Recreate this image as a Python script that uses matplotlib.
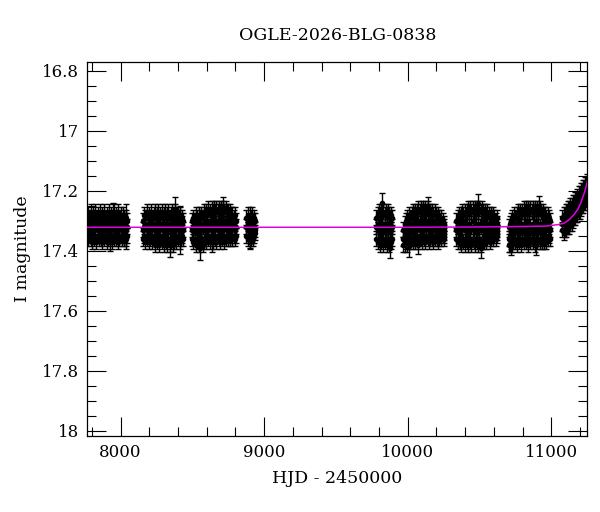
import numpy as np
import matplotlib
matplotlib.use('Agg')
import matplotlib.pyplot as plt
from matplotlib.ticker import MultipleLocator, FuncFormatter

# light curve: per season, rows of (HJD-2450000, three I mags taken that night)
season1 = [(7768,17.29,17.32,17.35),(7776,17.28,17.33,17.36),(7784,17.30,17.31,17.35),(7792,17.27,17.32,17.36),
           (7800,17.29,17.34,17.37),(7808,17.28,17.31,17.35),(7816,17.30,17.33,17.36),(7824,17.27,17.32,17.35),
           (7832,17.29,17.31,17.37),(7840,17.28,17.33,17.35),(7848,17.30,17.32,17.36),(7856,17.27,17.34,17.35),
           (7864,17.29,17.31,17.36),(7872,17.28,17.33,17.37),(7880,17.30,17.32,17.35),(7888,17.27,17.31,17.36),
           (7896,17.29,17.33,17.35),(7904,17.28,17.32,17.37),(7912,17.30,17.34,17.36),(7920,17.27,17.31,17.35),
           (7928,17.29,17.33,17.36),(7936,17.28,17.32,17.35),(7944,17.30,17.31,17.37),(7952,17.27,17.33,17.36),
           (7960,17.29,17.32,17.35),(7968,17.28,17.34,17.36),(7976,17.30,17.31,17.35),(7984,17.27,17.33,17.37),
           (7992,17.29,17.32,17.36),(8000,17.28,17.31,17.35),(8008,17.30,17.33,17.36),(8016,17.28,17.32,17.35),
           (8024,17.29,17.34,17.36),(8032,17.30,17.31,17.35),(8040,17.29,17.33,17.36),(8048,17.30,17.32,17.35)]
season2 = [(8158,17.30,17.33,17.36),(8166,17.28,17.32,17.35),(8174,17.29,17.31,17.37),(8182,17.27,17.33,17.36),
           (8190,17.29,17.32,17.35),(8198,17.28,17.34,17.37),(8206,17.30,17.31,17.36),(8214,17.27,17.33,17.35),
           (8222,17.29,17.32,17.37),(8230,17.28,17.31,17.36),(8238,17.27,17.33,17.38),(8246,17.29,17.32,17.35),
           (8254,17.28,17.34,17.37),(8262,17.27,17.31,17.36),(8270,17.29,17.33,17.38),(8278,17.28,17.32,17.36),
           (8286,17.27,17.31,17.37),(8294,17.29,17.33,17.35),(8302,17.28,17.32,17.38),(8310,17.27,17.34,17.36),
           (8318,17.29,17.31,17.37),(8326,17.28,17.33,17.38),(8334,17.27,17.32,17.36),(8342,17.29,17.31,17.38),
           (8350,17.28,17.33,17.37),(8358,17.27,17.32,17.36),(8366,17.29,17.34,17.38),(8374,17.28,17.31,17.37),
           (8382,17.27,17.33,17.36),(8390,17.29,17.32,17.37),(8398,17.28,17.31,17.36),(8406,17.29,17.33,17.35),
           (8414,17.28,17.32,17.37),(8422,17.30,17.34,17.36),(8430,17.29,17.31,17.35),(8436,17.30,17.33,17.36)]
season3 = [(8500,17.30,17.33,17.36),(8508,17.29,17.32,17.37),(8516,17.30,17.34,17.36),(8524,17.28,17.31,17.38),
           (8532,17.29,17.33,17.37),(8540,17.30,17.32,17.36),(8548,17.28,17.34,17.38),(8556,17.29,17.31,17.37),
           (8564,17.28,17.33,17.36),(8572,17.29,17.32,17.38),(8580,17.27,17.31,17.37),(8588,17.28,17.33,17.36),
           (8596,17.27,17.32,17.37),(8604,17.28,17.30,17.35),(8612,17.26,17.33,17.36),(8620,17.27,17.31,17.37),
           (8628,17.28,17.32,17.35),(8636,17.26,17.30,17.36),(8644,17.27,17.33,17.37),(8652,17.26,17.31,17.35),
           (8660,17.27,17.32,17.36),(8668,17.26,17.30,17.37),(8676,17.27,17.33,17.35),(8684,17.26,17.31,17.36),
           (8692,17.27,17.32,17.37),(8700,17.26,17.30,17.35),(8708,17.27,17.33,17.36),(8716,17.26,17.31,17.35),
           (8724,17.27,17.32,17.37),(8732,17.26,17.30,17.36),(8740,17.27,17.33,17.35),(8748,17.27,17.31,17.36),
           (8756,17.28,17.32,17.35),(8764,17.27,17.30,17.36),(8772,17.28,17.33,17.35),(8780,17.28,17.31,17.36),
           (8788,17.29,17.32,17.35),(8796,17.28,17.33,17.36),(8804,17.30,17.32,17.35)]
season4 = [(8877,17.29,17.32,17.35),(8885,17.28,17.33,17.36),(8892,17.30,17.31,17.35),(8900,17.28,17.32,17.37),
           (8908,17.29,17.34,17.36),(8916,17.28,17.31,17.35),(8923,17.30,17.33,17.36),(8931,17.29,17.32,17.35),
           (8938,17.30,17.33,17.34)]
season5 = [(9783,17.29,17.32,17.36),(9791,17.28,17.33,17.37),(9799,17.27,17.31,17.36),(9807,17.28,17.34,17.38),
           (9815,17.27,17.32,17.37),(9823,17.28,17.31,17.36),(9831,17.27,17.33,17.38),(9839,17.28,17.32,17.37),
           (9847,17.27,17.34,17.36),(9855,17.28,17.31,17.38),(9863,17.27,17.33,17.37),(9871,17.28,17.32,17.38),
           (9879,17.29,17.31,17.36),(9887,17.28,17.33,17.37),(9894,17.29,17.32,17.36)]
season6 = [(9971,17.33,17.36,17.38),(9979,17.31,17.35,17.38),(9987,17.30,17.34,17.37),(9995,17.29,17.33,17.38),
           (10003,17.30,17.32,17.37),(10011,17.28,17.34,17.36),(10019,17.29,17.31,17.37),(10027,17.28,17.33,17.36),
           (10035,17.27,17.32,17.37),(10043,17.28,17.34,17.36),(10051,17.27,17.31,17.37),(10059,17.28,17.33,17.35),
           (10067,17.27,17.32,17.36),(10075,17.26,17.30,17.37),(10083,17.27,17.33,17.35),(10091,17.26,17.31,17.36),
           (10099,17.27,17.32,17.37),(10107,17.26,17.30,17.35),(10115,17.27,17.33,17.36),(10123,17.26,17.31,17.37),
           (10131,17.27,17.32,17.35),(10139,17.26,17.30,17.36),(10147,17.27,17.33,17.37),(10155,17.27,17.31,17.36),
           (10163,17.28,17.32,17.35),(10171,17.27,17.30,17.36),(10179,17.28,17.33,17.37),(10187,17.27,17.31,17.36),
           (10195,17.28,17.32,17.35),(10203,17.29,17.34,17.36),(10211,17.28,17.31,17.37),(10219,17.29,17.33,17.36),
           (10227,17.30,17.32,17.35),(10235,17.29,17.34,17.36),(10243,17.30,17.32,17.35),(10250,17.31,17.33,17.36),
           (10256,17.32,17.34,17.35)]
season7 = [(10340,17.30,17.33,17.36),(10348,17.29,17.32,17.37),(10356,17.28,17.34,17.36),(10364,17.29,17.31,17.37),
           (10372,17.28,17.33,17.38),(10380,17.27,17.32,17.36),(10388,17.28,17.30,17.37),(10396,17.27,17.33,17.38),
           (10404,17.28,17.31,17.36),(10412,17.27,17.32,17.37),(10420,17.26,17.34,17.38),(10428,17.27,17.31,17.36),
           (10436,17.26,17.33,17.37),(10444,17.27,17.32,17.38),(10452,17.26,17.30,17.36),(10460,17.27,17.33,17.37),
           (10468,17.26,17.31,17.38),(10476,17.27,17.32,17.36),(10484,17.26,17.34,17.37),(10492,17.27,17.31,17.38),
           (10500,17.26,17.33,17.36),(10508,17.27,17.32,17.38),(10516,17.26,17.30,17.37),(10524,17.27,17.33,17.36),
           (10532,17.28,17.31,17.37),(10540,17.27,17.32,17.36),(10548,17.28,17.34,17.37),(10556,17.27,17.31,17.36),
           (10564,17.28,17.33,17.35),(10572,17.29,17.32,17.37),(10580,17.28,17.30,17.36),(10588,17.29,17.33,17.35),
           (10596,17.28,17.31,17.36),(10604,17.29,17.32,17.35),(10612,17.30,17.34,17.36),(10619,17.29,17.32,17.35),
           (10625,17.31,17.33,17.34)]
season8 = [(10703,17.32,17.36,17.38),(10711,17.31,17.35,17.38),(10719,17.30,17.33,17.37),(10727,17.29,17.34,17.38),
           (10735,17.30,17.32,17.37),(10743,17.28,17.33,17.36),(10751,17.29,17.31,17.37),(10759,17.28,17.34,17.38),
           (10767,17.27,17.32,17.36),(10775,17.28,17.33,17.37),(10783,17.27,17.31,17.36),(10791,17.28,17.32,17.38),
           (10799,17.27,17.34,17.36),(10807,17.26,17.31,17.37),(10815,17.27,17.33,17.36),(10823,17.26,17.32,17.37),
           (10831,17.27,17.30,17.36),(10839,17.26,17.33,17.38),(10847,17.27,17.31,17.36),(10855,17.26,17.32,17.37),
           (10863,17.27,17.34,17.36),(10871,17.26,17.31,17.37),(10879,17.27,17.33,17.36),(10887,17.26,17.32,17.38),
           (10895,17.27,17.30,17.36),(10903,17.26,17.33,17.37),(10911,17.27,17.31,17.36),(10919,17.26,17.32,17.37),
           (10927,17.27,17.34,17.36),(10935,17.28,17.31,17.37),(10943,17.27,17.33,17.36),(10951,17.28,17.32,17.37),
           (10959,17.28,17.30,17.36),(10967,17.29,17.33,17.37),(10975,17.28,17.31,17.36),(10982,17.29,17.32,17.35),
           (10988,17.30,17.33,17.36)]
season9 = [(11078,17.29,17.31,17.33),(11086,17.28,17.31,17.34),(11094,17.28,17.30,17.33),(11102,17.27,17.30,17.33),
           (11110,17.27,17.30,17.32),(11118,17.26,17.29,17.32),(11126,17.26,17.29,17.32),(11134,17.25,17.28,17.31),
           (11142,17.25,17.28,17.31),(11150,17.24,17.27,17.30),(11158,17.24,17.27,17.29),(11166,17.23,17.26,17.29),
           (11174,17.23,17.25,17.28),(11182,17.22,17.25,17.28),(11190,17.21,17.24,17.27),(11198,17.21,17.24,17.27),
           (11206,17.20,17.23,17.26),(11214,17.20,17.22,17.25),(11222,17.19,17.22,17.25),(11230,17.19,17.21,17.24),
           (11238,17.18,17.21,17.24),(11245,17.18,17.20,17.23),(11252,17.17,17.20,17.23)]
seasons = [season1, season2, season3, season4, season5, season6, season7, season8, season9]
typical_err = 0.025

# points with larger error bars (HJD-2450000, mag, err)
noisy = [(7930,17.37,0.03),(7950,17.27,0.03),(8040,17.32,0.075),(8347,17.38,0.04),(8382,17.26,0.04),
         (8417,17.33,0.08),(8556,17.39,0.04),(8640,17.37,0.035),(8716,17.255,0.033),(8905,17.36,0.03),
         (9823,17.24,0.033),(9874,17.39,0.033),(10006,17.385,0.035),(10075,17.38,0.03),(10140,17.25,0.03),
         (10487,17.245,0.033),(10508,17.39,0.033),(10722,17.38,0.035),(10892,17.38,0.033),(10913,17.25,0.033)]

# model curve
model_t = [7700, 9000, 10000, 10500, 10700, 10850, 10960, 11000, 11050, 11090, 11125, 11160,
           11185, 11206, 11234, 11260]
model_m = [17.322, 17.322, 17.322, 17.321, 17.320, 17.319, 17.318, 17.316, 17.313, 17.308, 17.297,
           17.279, 17.262, 17.241, 17.202, 17.155]

plt.rcParams['font.family'] = ['DejaVu Serif']

fig = plt.figure(figsize=(6, 5.12), dpi=100)
ax = fig.add_axes([0.1458, 0.1484, 0.8325, 0.7305])

ebar = dict(fmt='o', ms=3, color='k', ecolor='k', elinewidth=1.0, capsize=2.5, capthick=1.0, zorder=2)
for s in seasons:
    rows = np.array(s)
    t = np.repeat(rows[:, 0], 3)
    m = rows[:, 1:].ravel()
    ax.errorbar(t, m, yerr=typical_err, **ebar)
nt, nm, ne = np.array(noisy).T
ax.errorbar(nt, nm, yerr=ne, **ebar)

# magenta model on top of the points
ax.plot(model_t, model_m, color='#e000e0', lw=1.1, zorder=6)

ax.set_xlim(7770, 11249)
ax.set_ylim(18.018, 16.771)
ax.xaxis.set_major_locator(MultipleLocator(1000))
ax.xaxis.set_minor_locator(MultipleLocator(200))
ax.yaxis.set_major_locator(MultipleLocator(0.2))
ax.yaxis.set_minor_locator(MultipleLocator(0.05))
ax.yaxis.set_major_formatter(FuncFormatter(lambda v, p: '%g' % round(v, 2)))
ax.tick_params(which='both', direction='in', top=True, right=True, labelsize=12, width=0.8)
ax.tick_params(which='major', length=13.5, pad=6)
ax.tick_params(which='minor', length=6.8)
for sp in ax.spines.values():
    sp.set_linewidth(0.9)

ax.set_xlabel('HJD - 2450000', fontsize=12.5, labelpad=6)
ax.set_ylabel('I magnitude', fontsize=12.5, labelpad=8)
ax.set_title('OGLE-2026-BLG-0838', fontsize=12.5, pad=16)

fig.savefig('out.png', dpi=100)
